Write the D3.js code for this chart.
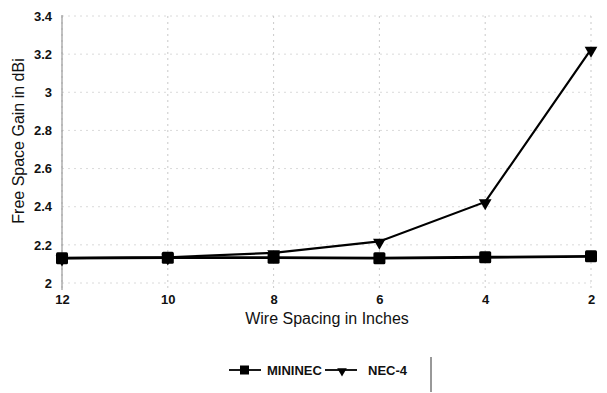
<!DOCTYPE html>
<html><head><meta charset="utf-8">
<script src="https://cdn.jsdelivr.net/npm/d3@7"></script>
<style>body{margin:0;background:#fff}svg{display:block}text{font-family:"Liberation Sans",Arial,sans-serif;fill:#111}</style>
</head><body><svg id="c" width="607" height="393"></svg>
<script>
const categories = ["12","10","8","6","4","2"];
const mininec = [2.13, 2.133, 2.133, 2.13, 2.135, 2.14];
const nec4 = [2.13, 2.135, 2.158, 2.218, 2.425, 3.225];
const yTicks = [2, 2.2, 2.4, 2.6, 2.8, 3, 3.2, 3.4];
const seriesNames = ["MININEC", "NEC-4"];

const svg = d3.select("#c");
const x = d3.scalePoint().domain(categories).range([62, 591]);
const y = d3.scaleLinear().domain([2, 3.4]).range([283, 16]);

// faint gridlines
const g = svg.append("g");
g.selectAll(".hg").data(yTicks).join("line")
  .attr("x1", 62).attr("x2", 591).attr("y1", d => y(d)).attr("y2", d => y(d))
  .attr("stroke", "#d0d0d0").attr("stroke-width", 0.8).attr("stroke-dasharray", "2,4");
g.selectAll(".vg").data(categories).join("line")
  .attr("x1", d => x(d)).attr("x2", d => x(d)).attr("y1", 16).attr("y2", 290)
  .attr("stroke", "#bbb").attr("stroke-width", 0.8).attr("stroke-dasharray", "2,4");

// y axis line
svg.append("line").attr("x1", 62).attr("x2", 62).attr("y1", 15).attr("y2", 290)
  .attr("stroke", "#999").attr("stroke-width", 1.2);

const tf = '"Liberation Sans",Arial,sans-serif';
// y tick labels
const yAxis = d3.axisLeft(y).tickValues(yTicks).tickSize(0).tickPadding(10).tickFormat(d3.format("~g"));
const ya = svg.append("g").attr("transform", "translate(62,0)").call(yAxis);
ya.select(".domain").remove();
ya.selectAll("text").attr("font-size", 13).attr("font-weight", "bold").style("font-family", tf).attr("fill", "#111");

// x tick labels
const xAxis = d3.axisBottom(x).tickSize(0).tickPadding(12);
const xa = svg.append("g").attr("transform", "translate(0,283)").call(xAxis);
xa.select(".domain").remove();
xa.selectAll("text").attr("font-size", 13).attr("font-weight", "bold").style("font-family", tf).attr("fill", "#111");

// titles
svg.append("text").attr("x", 327).attr("y", 324).attr("text-anchor", "middle")
  .attr("font-size", 16).text("Wire Spacing in Inches");
svg.append("text").attr("transform", "translate(24,141) rotate(-90)").attr("text-anchor", "middle")
  .attr("font-size", 16).text("Free Space Gain in dBi");

const line = d3.line().x((d, i) => x(categories[i])).y(d => y(d));
const tri = d3.symbol().type(d3.symbolTriangle).size(70);

// NEC-4
svg.append("path").datum(nec4).attr("d", line).attr("fill", "none").attr("stroke", "#000").attr("stroke-width", 2.2);
svg.selectAll(".tri").data(nec4).join("path")
  .attr("transform", (d, i) => `translate(${x(categories[i])},${y(d) + 1}) rotate(180)`)
  .attr("d", tri).attr("fill", "#000");

// MININEC
svg.append("path").datum(mininec).attr("d", line).attr("fill", "none").attr("stroke", "#000").attr("stroke-width", 2.8);
svg.selectAll(".sq").data(mininec).join("rect")
  .attr("x", (d, i) => x(categories[i]) - 6).attr("y", d => y(d) - 6)
  .attr("width", 12).attr("height", 12).attr("rx", 1.5).attr("fill", "#000");

// legend
const lg = svg.append("g");
const lx = [229, 325];
lg.selectAll(".ll").data(seriesNames).join("line")
  .attr("x1", (d, i) => lx[i]).attr("x2", (d, i) => lx[i] + 32).attr("y1", 370).attr("y2", 370)
  .attr("stroke", "#000").attr("stroke-width", 1.8);
lg.append("rect").attr("x", lx[0] + 11).attr("y", 365.5).attr("width", 9).attr("height", 9).attr("fill", "#000");
lg.append("path").attr("transform", `translate(${lx[1] + 17},371) rotate(180)`).attr("d", d3.symbol().type(d3.symbolTriangle).size(40)).attr("fill", "#000");
lg.selectAll(".lt").data(seriesNames).join("text")
  .attr("x", (d, i) => lx[i] + 38 + (i ? 5 : 0)).attr("y", 375).attr("font-size", 13).attr("font-weight", "bold").text(d => d);
svg.append("line").attr("x1", 431).attr("x2", 431).attr("y1", 357).attr("y2", 392).attr("stroke", "#333").attr("stroke-width", 1);
</script></body></html>
